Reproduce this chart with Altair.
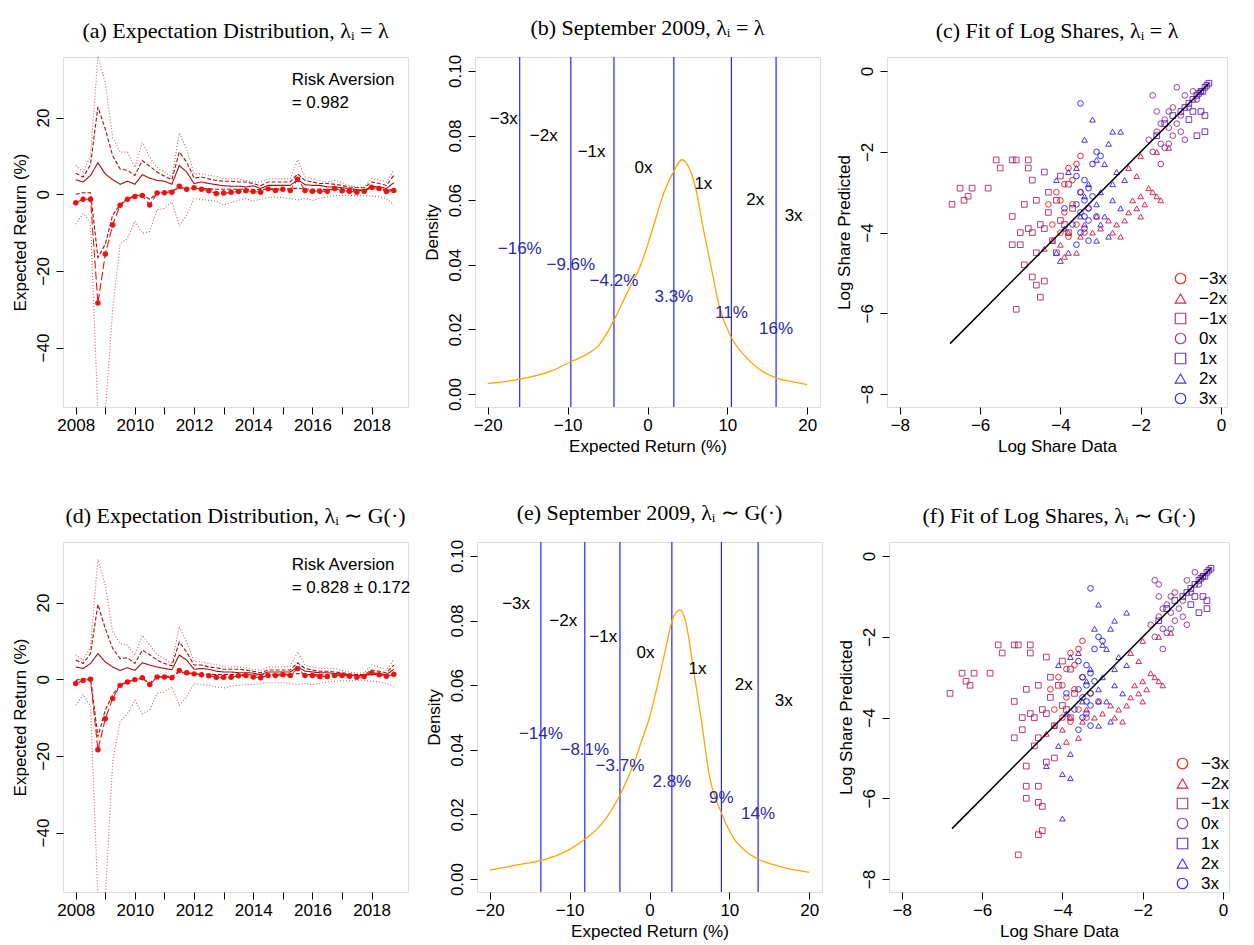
import pandas as pd
import altair as alt

# ---------- panel (a) / (d): quarterly expected returns ----------
quarters = [2008 + 0.25 * i for i in range(44)]

a_mean = [-2.2, -1.3, -1.3, -28.4, -15.6, -8.0, -2.9, -1.3, -0.6, -0.3, -2.8, 0.3, 0.4, 0.5, 2.1, 1.3,
          1.7, 1.3, 0.9, 0.2, 0.3, 0.5, 0.7, 0.9, 0.7, 0.5, 1.4, 1.0, 1.3, 1.0, 3.9, 1.0,
          0.8, 0.8, 0.8, 1.5, 0.9, 0.8, 0.5, 0.8, 1.8, 1.5, 0.7, 1.0]
a_up_solid = [3.8, 3.2, 4.9, 8.2, 5.3, 3.8, 2.6, 3.4, 2.6, 5.1, 4.2, 3.6, 3.4, 2.6, 7.5, 5.8,
              2.8, 3.2, 2.8, 2.5, 2.2, 2.1, 2.1, 1.9, 2.2, 1.5, 2.3, 2.3, 2.3, 2.3, 3.8, 2.5,
              2.3, 2.3, 1.9, 1.9, 1.7, 1.5, 1.2, 1.0, 2.1, 1.9, 1.5, 3.0]
a_up_dash = [5.5, 4.5, 7.7, 22.8, 17.0, 10.0, 6.6, 6.2, 4.9, 8.8, 7.3, 5.8, 4.7, 3.8, 11.0, 8.4,
             4.2, 4.5, 4.0, 3.6, 3.4, 3.4, 3.2, 3.2, 2.8, 2.2, 3.2, 3.2, 3.2, 3.2, 5.3, 3.6,
             3.2, 2.8, 2.8, 2.6, 2.3, 1.9, 1.7, 1.7, 3.2, 2.8, 2.3, 4.9]
a_up_dot = [7.5, 5.8, 10.0, 36.0, 29.0, 14.8, 11.0, 11.0, 7.0, 13.5, 9.7, 7.0, 5.8, 4.5, 16.0, 11.8,
            5.3, 5.3, 4.9, 4.7, 4.0, 4.0, 4.0, 3.6, 3.2, 3.2, 4.0, 4.0, 4.0, 4.0, 9.0, 4.5,
            4.0, 3.6, 3.2, 3.6, 3.0, 2.3, 1.9, 1.9, 4.1, 3.8, 3.2, 6.2]
a_lo_dash = [0.0, 0.4, 0.4, -16.5, -13.0, -5.4, -2.7, -1.1, -0.4, -0.1, -1.3, 0.2, 0.6, 1.0, 1.6, 1.5,
             1.5, 1.5, 1.4, 1.3, 1.3, 1.3, 1.3, 1.3, 1.2, 1.2, 1.4, 1.4, 1.4, 1.4, 1.6, 1.3,
             1.3, 1.3, 1.2, 1.3, 1.2, 1.1, 1.0, 1.0, 1.4, 1.3, 1.1, 1.2]
a_lo_dot = [-7.8, -5.0, -7.6, -57.0, -57.0, -30.0, -13.0, -11.5, -7.0, -10.2, -9.7, -4.1, -3.7, -2.0, -8.2, -5.4,
            -1.1, -1.4, -1.6, -1.8, -2.8, -2.2, -1.6, -1.1, -1.8, -1.3, -0.9, -0.7, -0.9, -1.1, -1.5, -1.1,
            -1.6, -1.1, -0.7, -0.4, -0.3, -0.3, -0.4, -0.4, -0.5, -0.7, -1.1, -2.8]

d_mean = [-1.1, -0.3, 0.0, -18.4, -10.3, -5.0, -1.6, -0.7, -0.1, 0.4, -1.4, 0.6, 0.6, 0.4, 2.3, 1.7,
          1.4, 1.2, 0.9, 0.5, 0.5, 0.5, 0.9, 1.0, 0.6, 0.4, 1.0, 1.0, 1.2, 1.0, 2.8, 1.0,
          1.0, 0.7, 0.7, 1.0, 1.0, 0.8, 0.5, 0.7, 1.6, 1.2, 0.8, 1.3]
d_up_solid = [3.2, 2.8, 4.1, 6.7, 4.5, 3.2, 2.3, 3.0, 2.3, 4.3, 3.7, 3.2, 2.8, 2.5, 6.3, 5.0,
              2.6, 2.8, 2.6, 2.1, 1.9, 1.9, 1.7, 1.7, 1.6, 1.2, 1.9, 1.9, 1.9, 1.9, 3.2, 2.1,
              1.9, 1.7, 1.7, 1.5, 1.4, 1.2, 1.0, 1.0, 1.7, 1.5, 1.2, 2.6]
d_up_dash = [5.0, 4.1, 6.7, 19.5, 13.2, 8.0, 5.4, 5.6, 4.1, 7.6, 6.4, 5.0, 4.1, 3.5, 9.7, 7.1,
             3.7, 3.7, 3.2, 3.0, 2.6, 2.6, 2.6, 2.4, 2.1, 1.7, 2.4, 2.4, 2.4, 2.4, 4.3, 2.8,
             2.4, 2.1, 2.1, 1.9, 1.7, 1.4, 1.2, 1.2, 2.4, 2.1, 1.7, 3.7]
d_up_dot = [6.4, 5.0, 8.4, 31.3, 24.5, 12.3, 9.3, 8.9, 6.3, 11.5, 8.9, 6.4, 5.4, 4.1, 13.7, 9.7,
            4.7, 4.5, 4.1, 3.8, 3.2, 3.2, 3.2, 3.0, 2.6, 2.3, 3.2, 3.2, 3.2, 3.4, 7.1, 3.7,
            3.2, 2.8, 2.8, 2.8, 2.3, 1.9, 1.6, 1.6, 3.7, 3.2, 2.3, 5.2]
d_lo_dash = [-0.3, 0.2, 0.2, -15.0, -8.0, -4.0, -1.5, -0.6, 0.0, 0.2, -1.0, 0.5, 0.7, 0.8, 1.8, 1.6,
             1.5, 1.4, 1.3, 1.2, 1.2, 1.2, 1.2, 1.2, 1.1, 1.1, 1.3, 1.3, 1.3, 1.3, 1.5, 1.2,
             1.2, 1.2, 1.1, 1.2, 1.1, 1.0, 0.9, 0.9, 1.3, 1.2, 1.0, 1.1]
d_lo_dot = [-6.8, -4.0, -7.0, -57.0, -57.0, -21.5, -11.0, -9.0, -5.5, -9.0, -8.0, -3.7, -3.3, -2.0, -6.8, -4.6,
            -1.1, -1.4, -1.6, -2.0, -2.3, -1.8, -1.6, -1.4, -1.4, -1.1, -0.9, -0.9, -0.9, -1.1, -1.4, -1.1,
            -1.4, -1.1, -0.7, -0.5, -0.4, -0.4, -0.4, -0.4, -0.5, -0.7, -1.1, -2.0]

# ---------- panel (b) / (e): density of expected return ----------
b_x = [-20, -16, -12, -9.6, -8, -6, -4.2, -3, -2, -1, 0, 1, 2, 3.3, 4.3, 5, 6, 7, 8, 9, 10.5, 12, 14, 16, 18, 20]
b_y = [0.0033, 0.0046, 0.0072, 0.0100, 0.0118, 0.0154, 0.0228, 0.0290, 0.0340, 0.0390, 0.0460, 0.0540,
       0.0620, 0.0690, 0.0725, 0.0710, 0.0640, 0.0510, 0.0390, 0.0270, 0.0175, 0.0123, 0.0077, 0.0051,
       0.0039, 0.0029]
b_cuts = [-16, -9.6, -4.2, 3.3, 10.5, 16.1]
b_cut_labels = ['−16%', '−9.6%', '−4.2%', '3.3%', '11%', '16%']
b_lev_x = [-18, -13, -7, -0.5, 7, 13.5, 18.3]

e_x = [-20, -16, -13.6, -10, -8.1, -6, -3.7, -2, -1, 0, 1, 2, 2.8, 3.8, 4.5, 5.5, 6.5, 7.5, 9, 10.5, 12, 13.6, 16, 20]
e_y = [0.0028, 0.0046, 0.0057, 0.0092, 0.0123, 0.0170, 0.0260, 0.0355, 0.0427, 0.0500, 0.0600, 0.0710,
       0.0797, 0.0833, 0.0800, 0.0650, 0.0490, 0.0320, 0.0205, 0.0128, 0.0087, 0.0062, 0.0041, 0.0021]
e_cuts = [-13.6, -8.1, -3.7, 2.8, 9.0, 13.6]
e_cut_labels = ['−14%', '−8.1%', '−3.7%', '2.8%', '9%', '14%']
e_lev_x = [-16.7, -10.8, -5.8, -0.5, 6, 11.8, 16.8]

levels = ['−3x', '−2x', '−1x', '0x', '1x', '2x', '3x']
level_y = [0.085, 0.080, 0.075, 0.070, 0.065, 0.060, 0.055]
cut_y = [0.045, 0.040, 0.035, 0.030, 0.025, 0.020]

# ---------- panel (c) / (f): log shares ----------
c_pts = {
    '−3x': [(-3.5, -2.1), (-3.6, -2.3), (-3.8, -2.4), (-3.9, -2.8), (-4.1, -3.0), (-3.7, -3.3), (-3.5, -3.0),
            (-3.9, -3.5), (-4.2, -3.8), (-3.6, -3.8), (-3.4, -4.0), (-3.8, -4.1), (-4.3, -3.3), (-3.3, -3.4),
            (-4.0, -3.2), (-3.7, -2.7), (-4.0, -4.0)],
    '−2x': [(-4.2, -4.2), (-4.0, -4.3), (-3.8, -4.0), (-3.6, -4.5), (-3.9, -4.6), (-3.5, -4.1), (-3.4, -3.8),
            (-3.2, -4.0), (-3.0, -3.9), (-2.8, -3.7), (-2.6, -3.8), (-2.4, -3.7), (-2.3, -3.5), (-2.1, -3.4),
            (-2.0, -3.6), (-2.2, -3.2), (-2.0, -3.1), (-1.9, -3.3), (-1.7, -3.0), (-1.6, -3.1), (-1.5, -3.2),
            (-1.8, -2.9), (-2.3, -2.4), (-2.0, -2.1), (-1.6, -2.0), (-2.1, -2.6), (-2.7, -4.0), (-3.1, -3.6),
            (-2.5, -4.1), (-4.4, -4.4), (-1.3, -1.9)],
    '−1x': [(-6.7, -3.3), (-6.5, -2.9), (-6.3, -3.1), (-6.2, -2.9), (-6.4, -3.2), (-5.8, -2.9), (-5.6, -2.2),
            (-5.5, -2.4), (-5.2, -2.2), (-5.1, -2.2), (-4.8, -2.2), (-4.8, -2.4), (-5.1, -5.9), (-4.9, -4.8),
            (-4.7, -5.1), (-4.5, -5.6), (-4.6, -5.3), (-4.4, -5.2), (-5.0, -4.3), (-5.0, -4.0), (-4.7, -4.0),
            (-4.5, -3.8), (-4.3, -3.5), (-4.0, -3.7), (-4.2, -4.2), (-4.8, -3.9), (-4.9, -3.3), (-4.6, -3.2),
            (-4.4, -2.5), (-4.0, -2.6), (-3.8, -2.8), (-5.2, -3.6), (-5.2, -4.3), (-4.1, -3.2), (-3.7, -3.4),
            (-4.3, -3.0), (-4.6, -4.5), (-3.8, -4.0), (-3.9, -3.8), (-4.4, -3.9), (-4.7, -2.7), (-4.1, -4.5)],
    '0x': [(-1.6, -1.5), (-1.4, -1.2), (-1.3, -1.0), (-1.0, -1.1), (-0.8, -0.9), (-1.5, -1.8), (-1.7, -2.0),
           (-1.2, -1.6), (-1.0, -1.5), (-1.4, -1.9), (-0.9, -0.6), (-1.7, -0.6), (-0.7, -0.5), (-1.5, -2.3),
           (-1.1, -1.3), (-1.3, -1.4), (-0.6, -0.7), (-0.5, -0.5), (-1.6, -1.0), (-0.9, -1.7), (-1.2, -0.9),
           (-1.5, -1.3), (-1.8, -1.7), (-1.3, -1.8), (-1.1, -0.4)],
    '1x': [(-0.3, -0.3), (-0.4, -0.4), (-0.5, -0.5), (-0.6, -0.6), (-0.7, -0.7), (-0.8, -0.8), (-0.9, -0.9),
           (-1.0, -1.0), (-1.2, -1.1), (-1.4, -1.3), (-1.6, -1.6), (-0.4, -1.1), (-0.4, -1.5), (-0.6, -1.6),
           (-0.5, -1.0), (-0.35, -0.35), (-0.45, -0.5), (-0.55, -0.55), (-0.7, -1.0), (-0.8, -1.2)],
    '2x': [(-3.2, -1.2), (-3.4, -1.7), (-2.7, -1.5), (-2.5, -1.5), (-2.8, -1.8), (-3.1, -2.2), (-2.9, -2.3),
           (-2.6, -2.5), (-2.4, -2.7), (-3.6, -2.4), (-3.8, -2.5), (-4.1, -2.7), (-3.3, -2.8), (-3.0, -3.0),
           (-2.7, -3.2), (-2.5, -3.4), (-3.1, -3.3), (-2.9, -3.6), (-3.5, -3.6), (-3.9, -3.9), (-4.0, -4.7),
           (-3.8, -4.5), (-4.1, -4.5), (-3.1, -4.2), (-2.8, -4.1), (-3.0, -3.8), (-2.7, -2.8), (-3.4, -3.1)],
    '3x': [(-3.4, -2.7), (-3.3, -2.9), (-3.5, -3.0), (-3.4, -3.2), (-3.3, -3.4), (-3.5, -3.5), (-3.4, -3.6),
           (-3.3, -3.7), (-3.6, -3.3), (-3.2, -3.1), (-3.5, -4.0), (-3.6, -4.3), (-3.3, -4.2), (-3.1, -2.0),
           (-3.5, -0.8), (-3.2, -2.3), (-3.0, -2.1), (-3.7, -3.8), (-3.9, -3.4), (-3.1, -3.6), (-3.4, -3.9),
           (-3.6, -2.6)],
}
f_pts = {
    '−3x': [(-3.5, -2.1), (-3.6, -2.3), (-3.8, -2.4), (-3.9, -2.8), (-4.1, -3.0), (-3.7, -3.3), (-3.5, -3.0),
            (-3.9, -3.5), (-4.2, -3.8), (-3.6, -3.8), (-3.4, -4.0), (-3.8, -4.1), (-4.3, -3.3), (-3.3, -3.4),
            (-4.0, -3.2), (-3.7, -2.7), (-4.0, -4.0)],
    '−2x': [(-4.2, -4.2), (-4.0, -4.3), (-3.8, -4.0), (-3.6, -4.5), (-3.9, -4.6), (-3.5, -4.1), (-3.4, -3.8),
            (-3.2, -4.0), (-3.0, -3.9), (-2.8, -3.7), (-2.6, -3.8), (-2.4, -3.7), (-2.3, -3.5), (-2.1, -3.4),
            (-2.0, -3.6), (-2.2, -3.2), (-2.0, -3.1), (-1.9, -3.3), (-1.7, -3.0), (-1.6, -3.1), (-1.5, -3.2),
            (-1.8, -2.9), (-2.3, -2.4), (-2.0, -2.1), (-1.6, -2.0), (-2.1, -2.6), (-2.7, -4.0), (-3.1, -3.6),
            (-2.5, -4.1), (-4.4, -4.4), (-1.3, -1.9)],
    '−1x': [(-6.8, -3.4), (-6.5, -2.9), (-6.3, -3.2), (-6.2, -2.9), (-6.4, -3.1), (-5.8, -2.9), (-5.6, -2.2),
            (-5.5, -2.4), (-5.2, -2.2), (-5.1, -2.2), (-4.8, -2.2), (-4.8, -2.4), (-5.1, -7.4), (-4.9, -6.0),
            (-4.6, -6.9), (-4.5, -6.8), (-4.6, -6.1), (-4.5, -6.2), (-4.9, -5.7), (-4.6, -5.7), (-4.9, -5.2),
            (-4.7, -4.7), (-4.4, -5.1), (-5.0, -4.3), (-5.0, -4.0), (-4.7, -4.0), (-4.5, -3.8), (-4.3, -3.5),
            (-4.0, -3.7), (-4.2, -4.2), (-4.8, -3.9), (-4.9, -3.3), (-4.6, -3.2), (-4.4, -2.5), (-4.0, -2.6),
            (-3.8, -2.8), (-5.2, -3.6), (-5.2, -4.5), (-4.1, -3.2), (-3.7, -3.4), (-4.3, -3.0), (-4.6, -4.5),
            (-3.8, -4.0), (-3.9, -3.8), (-4.4, -3.9), (-4.2, -5.0)],
    '0x': [(-1.6, -1.5), (-1.4, -1.2), (-1.3, -1.0), (-1.0, -1.1), (-0.8, -0.9), (-1.5, -1.8), (-1.7, -2.0),
           (-1.2, -1.6), (-1.0, -1.5), (-1.4, -1.9), (-0.9, -0.6), (-1.7, -0.6), (-0.7, -0.4), (-1.5, -2.3),
           (-1.1, -1.3), (-1.3, -1.4), (-0.6, -0.7), (-0.5, -0.5), (-1.6, -1.0), (-0.9, -1.7), (-1.2, -0.9),
           (-1.5, -1.3), (-1.8, -1.7), (-1.3, -1.8), (-1.6, -0.7)],
    '1x': [(-0.3, -0.3), (-0.4, -0.4), (-0.5, -0.5), (-0.6, -0.6), (-0.7, -0.7), (-0.8, -0.8), (-0.9, -0.9),
           (-1.0, -1.0), (-1.2, -1.1), (-1.4, -1.3), (-1.6, -1.6), (-0.4, -1.1), (-0.4, -1.3), (-0.6, -1.4),
           (-0.5, -1.0), (-0.35, -0.35), (-0.45, -0.5), (-0.55, -0.55), (-0.7, -1.0), (-0.8, -1.2)],
    '2x': [(-3.1, -1.2), (-3.2, -1.8), (-2.7, -1.6), (-2.4, -1.4), (-2.8, -1.8), (-3.0, -2.2), (-2.9, -2.3),
           (-2.6, -2.5), (-2.4, -2.7), (-3.6, -2.4), (-3.8, -2.5), (-4.1, -2.7), (-3.3, -2.8), (-3.0, -3.0),
           (-2.7, -3.2), (-2.5, -3.4), (-3.1, -3.3), (-2.9, -3.6), (-3.5, -3.6), (-3.9, -3.9), (-4.0, -5.4),
           (-3.8, -5.5), (-4.1, -4.7), (-4.4, -5.2), (-4.0, -6.5), (-3.1, -4.2), (-2.8, -4.1), (-3.8, -4.9),
           (-2.7, -2.8), (-3.4, -3.1)],
    '3x': [(-3.4, -2.7), (-3.3, -2.9), (-3.5, -3.0), (-3.4, -3.2), (-3.3, -3.4), (-3.5, -3.5), (-3.4, -3.6),
           (-3.3, -3.7), (-3.6, -3.3), (-3.2, -3.1), (-3.5, -4.0), (-3.6, -4.3), (-3.3, -4.2), (-3.1, -2.0),
           (-3.3, -0.8), (-3.2, -2.3), (-3.0, -2.1), (-3.7, -3.8), (-3.9, -3.4), (-3.1, -3.6), (-3.4, -3.9),
           (-3.6, -2.6)],
}
fit_line = [(-6.75, -6.75), (-0.3, -0.3)]

level_colors = ['#f01010', '#e0103a', '#b0286a', '#902a90', '#6020c0', '#3a20e0', '#1a1aff']
level_shapes = ['circle', 'triangle-up', 'square', 'circle', 'square', 'triangle-up', 'circle']

W, H = 340, 350
FONT = 'Liberation Sans'
FS = 17


def axx(title, **kw):
    return alt.Axis(title=title, grid=False, domain=False, tickColor='black', labelColor='black',
                    labelFontSize=FS, titleFontSize=FS, titleFontWeight='normal', labelFont=FONT,
                    titleFont=FONT, tickSize=7, labelPadding=3, titlePadding=5, **kw)


def axy(title, **kw):
    return alt.Axis(title=title, grid=False, domain=False, tickColor='black', labelColor='black',
                    labelFontSize=FS, titleFontSize=FS, titleFontWeight='normal', labelFont=FONT,
                    titleFont=FONT, tickSize=7, labelAngle=-90, labelAlign='center',
                    labelBaseline='bottom', labelPadding=4, titlePadding=5, **kw)


def ttl(text):
    return alt.TitleParams(text, font='Liberation Serif', fontSize=22, fontWeight='normal',
                           color='black', offset=14)


def expectation_panel(title, mean, us, ud, udt, ld, ldt, ra_text):
    rows = []
    for name, vals in [('us', us), ('ud', ud), ('udt', udt), ('ld', ld), ('ldt', ldt), ('mean', mean)]:
        for q, v in zip(quarters, vals):
            rows.append({'t': q, 'v': v, 's': name})
    df = pd.DataFrame(rows)
    xs = alt.X('t:Q', scale=alt.Scale(domain=[2007.57, 2019.23], nice=False, zero=False),
               axis=axx('', values=list(range(2008, 2019)),
                        labelExpr="datum.value % 2 == 0 ? datum.value : ''", format='d'))
    ys = alt.Y('v:Q', scale=alt.Scale(domain=[-55.5, 35.8], nice=False),
               axis=axy('Expected Return (%)', values=[-40, -20, 0, 20]))
    lines = alt.Chart(df).mark_line(clip=True, strokeWidth=1.1).encode(
        x=xs, y=ys, detail='s:N',
        color=alt.Color('s:N', legend=None, scale=alt.Scale(
            domain=['us', 'ud', 'udt', 'ld', 'ldt', 'mean'],
            range=['#a01010', '#a01010', '#c86060', '#a01010', '#c86060', '#ee1111'])),
        strokeDash=alt.StrokeDash('s:N', legend=None, scale=alt.Scale(
            domain=['us', 'ud', 'udt', 'ld', 'ldt', 'mean'],
            range=[[1, 0], [4, 2], [1, 2], [4, 2], [1, 2], [8, 3]])))
    dots = alt.Chart(df[df.s == 'mean']).mark_circle(size=30, color='#ee1111', opacity=1).encode(x=xs, y=ys)
    txt = alt.Chart(pd.DataFrame({'t': [2015.3, 2015.3], 'v': [29.8, 23.9], 'l': ['Risk Aversion', ra_text]}))\
        .mark_text(align='left', baseline='middle', font=FONT, fontSize=FS, color='black')\
        .encode(x=xs, y=ys, text='l:N')
    return alt.layer(lines, dots, txt).properties(width=W + 5, height=H, title=ttl(title))


def density_panel(title, xv, yv, cuts, cut_labels, lev_x):
    xs_scale = alt.Scale(domain=[-21.6, 21.6], nice=False)
    ys_scale = alt.Scale(domain=[-0.004, 0.1043], nice=False)
    xax = axx('Expected Return (%)', values=[-20, -10, 0, 10, 20])
    yax = axy('Density', values=[0, 0.02, 0.04, 0.06, 0.08, 0.10], format='.2f')
    curve = alt.Chart(pd.DataFrame({'x': xv, 'y': yv})).mark_line(color='orange', strokeWidth=1.3,
                                                                    interpolate='monotone').encode(
        x=alt.X('x:Q', scale=xs_scale, axis=xax), y=alt.Y('y:Q', scale=ys_scale, axis=yax))
    rules = alt.Chart(pd.DataFrame({'x': cuts})).mark_rule(color='#1010ff', strokeWidth=1.1).encode(
        x=alt.X('x:Q', scale=xs_scale))
    lev = alt.Chart(pd.DataFrame({'x': lev_x, 'y': level_y, 'l': levels})).mark_text(
        font=FONT, fontSize=FS, color='black').encode(
        x=alt.X('x:Q', scale=xs_scale), y=alt.Y('y:Q', scale=ys_scale), text='l:N')
    cl = alt.Chart(pd.DataFrame({'x': cuts, 'y': cut_y, 'l': cut_labels})).mark_text(
        font=FONT, fontSize=FS, color='#2a2aa8').encode(
        x=alt.X('x:Q', scale=xs_scale), y=alt.Y('y:Q', scale=ys_scale), text='l:N')
    return alt.layer(rules, curve, lev, cl).properties(width=W + 5, height=H, title=ttl(title))


def share_panel(title, pts):
    rows = []
    for lv in levels:
        for x, y in pts[lv]:
            rows.append({'x': x, 'y': y, 'lev': lv})
    df = pd.DataFrame(rows)
    xs_scale = alt.Scale(domain=[-8.32, 0.15], nice=False)
    ys_scale = alt.Scale(domain=[-8.32, 0.35], nice=False)
    xax = axx('Log Share Data', values=[-8, -6, -4, -2, 0])
    yax = axy('Log Share Predicted', values=[-8, -6, -4, -2, 0])
    legend = alt.Legend(title=None, orient='bottom-right', labelFont=FONT, labelFontSize=FS,
                        labelColor='black', symbolSize=110, symbolStrokeWidth=1.2, rowPadding=2,
                        padding=0, offset=0, labelOffset=10)
    pts_layer = alt.Chart(df).mark_point(filled=False, size=32, strokeWidth=1, opacity=0.9).encode(
        x=alt.X('x:Q', scale=xs_scale, axis=xax),
        y=alt.Y('y:Q', scale=ys_scale, axis=yax),
        color=alt.Color('lev:N', scale=alt.Scale(domain=levels, range=level_colors), legend=legend),
        shape=alt.Shape('lev:N', scale=alt.Scale(domain=levels, range=level_shapes), legend=legend))
    line = alt.Chart(pd.DataFrame({'x': [p[0] for p in fit_line], 'y': [p[1] for p in fit_line]}))\
        .mark_line(color='black', strokeWidth=1.5).encode(
        x=alt.X('x:Q', scale=xs_scale), y=alt.Y('y:Q', scale=ys_scale))
    return alt.layer(pts_layer, line).properties(width=W, height=H, title=ttl(title))


def row(p1, p2, p3):
    return alt.hconcat(p1, p2, p3, spacing=13).resolve_scale(
        color='independent', shape='independent', strokeDash='independent').resolve_legend(
        color='independent', shape='independent')


row1 = row(
    expectation_panel('(a) Expectation Distribution, λᵢ = λ', a_mean, a_up_solid, a_up_dash, a_up_dot,
                      a_lo_dash, a_lo_dot, '= 0.982'),
    density_panel('(b) September 2009, λᵢ = λ', b_x, b_y, b_cuts, b_cut_labels, b_lev_x),
    share_panel('(c) Fit of Log Shares, λᵢ = λ', c_pts))
row2 = row(
    expectation_panel('(d) Expectation Distribution, λᵢ ∼ G(·)', d_mean, d_up_solid, d_up_dash, d_up_dot,
                      d_lo_dash, d_lo_dot, '= 0.828 ± 0.172'),
    density_panel('(e) September 2009, λᵢ ∼ G(·)', e_x, e_y, e_cuts, e_cut_labels, e_lev_x),
    share_panel('(f) Fit of Log Shares, λᵢ ∼ G(·)', f_pts))

chart = alt.vconcat(row1, row2, spacing=46).resolve_scale(
    color='independent', shape='independent', strokeDash='independent').resolve_legend(
    color='independent', shape='independent').configure_view(
    stroke='black', strokeWidth=1).configure(padding={'left': 2, 'top': 8, 'right': 0, 'bottom': 0})

chart.save("out.html", embed_options={"renderer": "svg", "actions": False})
